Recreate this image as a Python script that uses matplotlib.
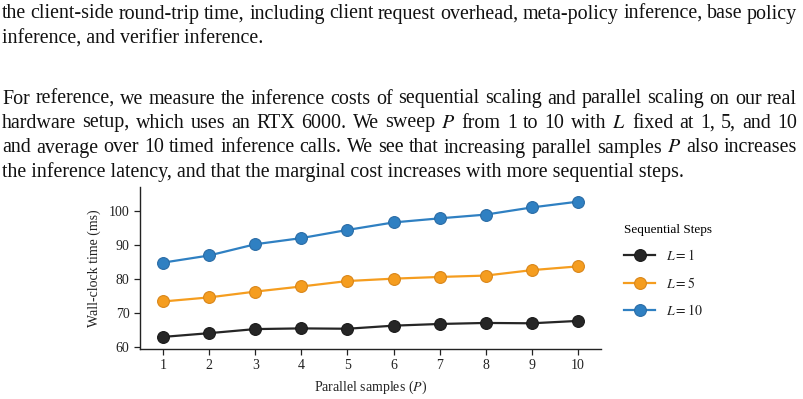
import matplotlib.pyplot as plt
import numpy as np

plt.rcParams['font.family'] = ['Liberation Serif', 'DejaVu Serif']
plt.rcParams['mathtext.fontset'] = 'stix'

# data
parallel_samples = [1, 2, 3, 4, 5, 6, 7, 8, 9, 10]
latency_l1 = [63.0, 64.1, 65.3, 65.5, 65.4, 66.3, 66.8, 67.1, 67.0, 67.7]
latency_l5 = [73.4, 74.6, 76.3, 77.8, 79.4, 80.1, 80.6, 81.0, 82.6, 83.7]
latency_l10 = [84.8, 86.9, 90.2, 92.0, 94.4, 96.6, 97.8, 98.9, 101.0, 102.7]
series_labels = ['$L = 1$', '$L = 5$', '$L = 10$']
series_colors = ['#262626', '#f59d1f', '#2f80c2']
edge_colors = ['#1a1a1a', '#d9861a', '#2a6ca6']

paragraph_lines = [
    ("the client-side round-trip time, including client request overhead, meta-policy inference, base policy", True),
    ("inference, and verifier inference.", False),
    ("For reference, we measure the inference costs of sequential scaling and parallel scaling on our real", True),
    ("hardware setup, which uses an RTX 6000.  We sweep $P$ from 1 to 10 with $L$ fixed at 1, 5, and 10", True),
    ("and average over 10 timed inference calls. We see that increasing parallel samples $P$ also increases", True),
    ("the inference latency, and that the marginal cost increases with more sequential steps.", False),
]
line_y = [14, 39, 99, 123, 148, 172]  # pixel centers from top

W, H = 804, 399
fig = plt.figure(figsize=(W / 100, H / 100), dpi=100)
renderer = fig.canvas.get_renderer()


def put_line(text, y_px, justify, x0=2, x1=797, size=14.4):
    y = 1 - y_px / H
    words = text.split()
    if not justify:
        fig.text(x0 / W, y, text, fontsize=size, va='center', ha='left', color='#111111')
        return
    objs = [fig.text(0, y, w, fontsize=size, va='center', ha='left', color='#111111') for w in words]
    widths = [o.get_window_extent(renderer).width for o in objs]
    gap = (x1 - x0 - sum(widths)) / (len(words) - 1)
    x = x0
    for o, w in zip(objs, widths):
        o.set_x(x / W)
        x += w + gap


for (txt, just), yp in zip(paragraph_lines, line_y):
    put_line(txt, yp, just)

ax = fig.add_axes([140 / W, 1 - 348.5 / H, 461 / W, 161.5 / H])
all_series = [latency_l1, latency_l5, latency_l10]
for vals, lab, c, ec in zip(all_series, series_labels, series_colors, edge_colors):
    ax.plot(parallel_samples, vals, color=c, lw=1.6, marker='o', ms=8.5,
            markerfacecolor=c, markeredgecolor=ec, markeredgewidth=0.8, label=lab)

ax.set_xlim(0.5, 10.5)
ax.set_ylim(59.6, 107)
ax.set_xticks(parallel_samples)
ax.set_yticks([60, 70, 80, 90, 100])
ax.spines['top'].set_visible(False)
ax.spines['right'].set_visible(False)
for s in ['left', 'bottom']:
    ax.spines[s].set_linewidth(1.0)
    ax.spines[s].set_color('#222222')
ax.tick_params(axis='both', labelsize=10, length=4, width=0.9, color='#222222', labelcolor='#222222')
ax.set_xlabel('Parallel samples ($P$)', fontsize=10, color='#222222', labelpad=5)
ax.set_ylabel('Wall-clock time (ms)', fontsize=10, color='#222222', labelpad=6)

leg = fig.legend(loc='upper left', bbox_to_anchor=(612 / W, 1 - 211 / H), frameon=False,
                 title='Sequential Steps', fontsize=10, title_fontsize=9.5,
                 handlelength=2.2, labelspacing=0.9, handletextpad=0.8)
leg._legend_box.align = 'left'
for t in leg.get_texts():
    t.set_color('#222222')

fig.savefig('out.png', dpi=100)
